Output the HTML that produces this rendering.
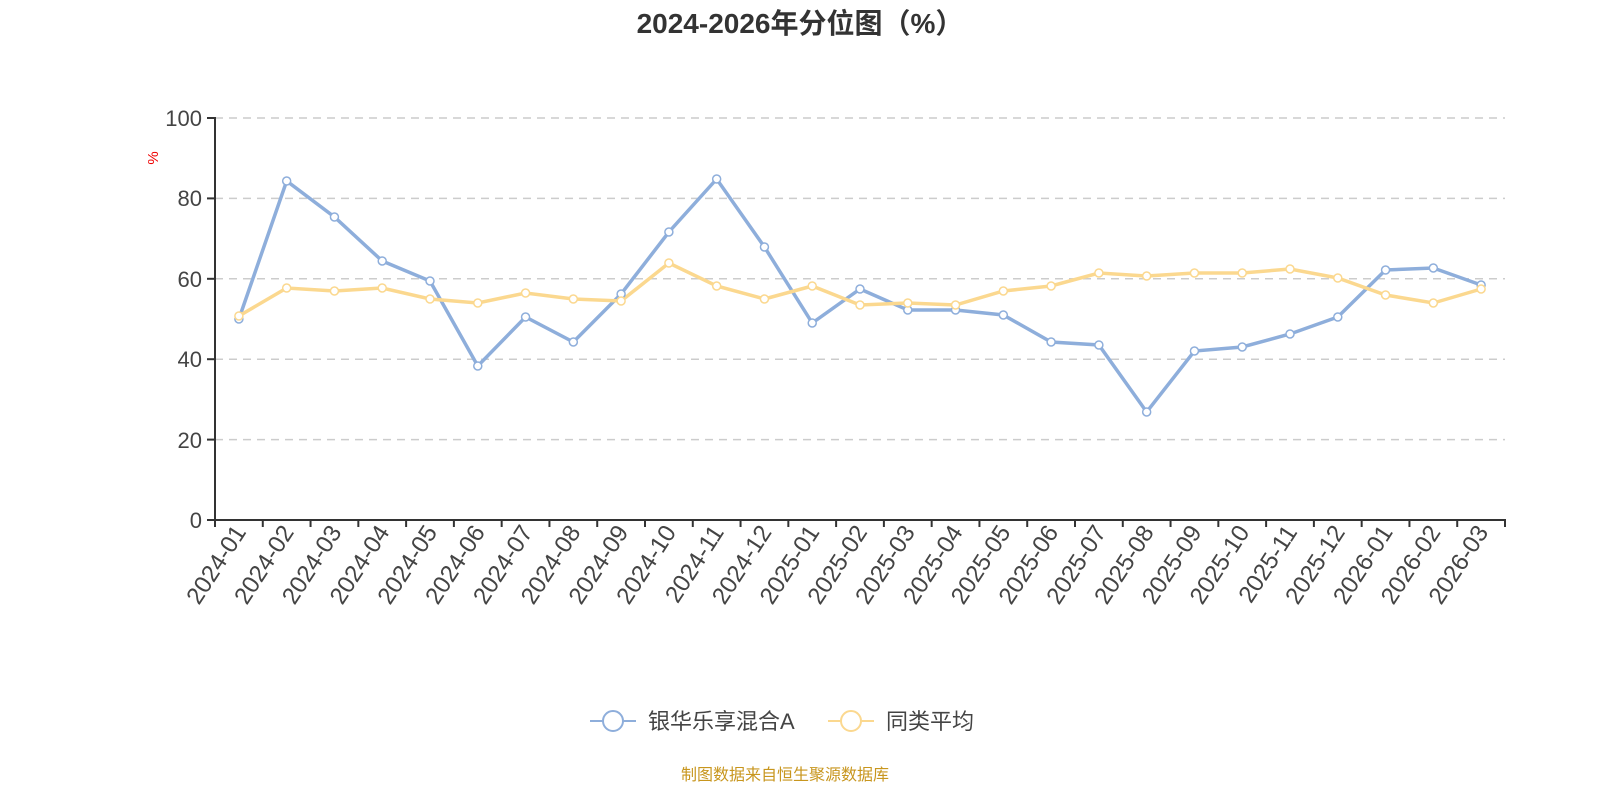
<!DOCTYPE html>
<html><head><meta charset="utf-8"><style>
body{margin:0;background:#fff;}
svg text{font-family:"Liberation Sans","Noto Sans CJK SC",sans-serif;}
</style></head><body>
<svg width="1600" height="800" xmlns="http://www.w3.org/2000/svg">
<text x="800" y="33" text-anchor="middle" font-size="28" font-weight="bold" fill="#333">2024-2026年分位图（%）</text>
<text transform="translate(158,158) rotate(-90)" text-anchor="middle" font-size="15" fill="#e00">%</text>
<g stroke="#ccc" stroke-dasharray="8,6" stroke-width="1.5">
<line x1="215" y1="118" x2="1505" y2="118"/><line x1="215" y1="198.4" x2="1505" y2="198.4"/><line x1="215" y1="278.8" x2="1505" y2="278.8"/><line x1="215" y1="359.2" x2="1505" y2="359.2"/><line x1="215" y1="439.6" x2="1505" y2="439.6"/>
</g>
<g font-size="22" fill="#444" text-anchor="end">
<text x="202" y="126">100</text><text x="202" y="206">80</text><text x="202" y="287">60</text><text x="202" y="367">40</text><text x="202" y="448">20</text><text x="202" y="528">0</text>
</g>
<g stroke="#333" stroke-width="2"><line x1="215" y1="117" x2="215" y2="521"/><line x1="207" y1="520" x2="1506" y2="520"/>
<line x1="207" y1="118" x2="215" y2="118"/><line x1="207" y1="198.4" x2="215" y2="198.4"/><line x1="207" y1="278.8" x2="215" y2="278.8"/><line x1="207" y1="359.2" x2="215" y2="359.2"/><line x1="207" y1="439.6" x2="215" y2="439.6"/>
</g>
<g id="ticks" stroke="#333" stroke-width="2"></g>
<g id="labels" font-size="24" fill="#444" text-anchor="end"></g>
<polyline id="b" fill="none" stroke="#8eaedb" stroke-width="3.5"/>
<polyline id="y" fill="none" stroke="#fbd88f" stroke-width="3.5"/>
<g id="bp" fill="#fff" stroke="#8eaedb" stroke-width="1.5"></g>
<g id="yp" fill="#fff" stroke="#fbd88f" stroke-width="1.5"></g>
<line x1="590" y1="721" x2="636" y2="721" stroke="#8eaedb" stroke-width="2"/><circle cx="613" cy="721" r="10" fill="#fff" stroke="#8eaedb" stroke-width="2"/>
<text x="648" y="729" font-size="22" fill="#444">银华乐享混合A</text>
<line x1="828" y1="721" x2="874" y2="721" stroke="#fbd88f" stroke-width="2"/><circle cx="851" cy="721" r="10" fill="#fff" stroke="#fbd88f" stroke-width="2"/>
<text x="886" y="729" font-size="22" fill="#444">同类平均</text>
<text x="785" y="780" text-anchor="middle" font-size="16" fill="#c8961e">制图数据来自恒生聚源数据库</text>
<script>
var B=[319,181,217,261,281,366,317,342,294,232,179,247,323,289,310,310,315,342,345,412,351,347,334,317,270,268,285];
var Y=[316,288,291,288,299,303,293,299,301,263,286,299,286,305,303,305,291,286,273,276,273,273,269,278,295,303,289];
var labs=[];for(var yr=2024;yr<=2026;yr++)for(var m=1;m<=12;m++){if(yr==2026&&m>3)break;labs.push(yr+"-"+(m<10?"0":"")+m);}
var w=1290/27,ns="http://www.w3.org/2000/svg",bp=[],yp=[];
function el(t,a,p){var e=document.createElementNS(ns,t);for(var k in a)e.setAttribute(k,a[k]);document.getElementById(p).appendChild(e);return e;}
for(var k=0;k<=27;k++){var x=215+w*k;el("line",{x1:x,y1:520,x2:x,y2:527},"ticks");}
for(var i=0;i<27;i++){var x=215+w*(i+0.5);bp.push(x+","+B[i]);yp.push(x+","+Y[i]);
var t=el("text",{transform:"translate("+(x+8)+",532) rotate(-57)"},"labels");t.textContent=labs[i];}
document.getElementById("b").setAttribute("points",bp.join(" "));
document.getElementById("y").setAttribute("points",yp.join(" "));
for(var i=0;i<27;i++){var x=215+w*(i+0.5);el("circle",{cx:x,cy:B[i],r:4},"bp");el("circle",{cx:x,cy:Y[i],r:4},"yp");}
</script>
</svg>
</body></html>
